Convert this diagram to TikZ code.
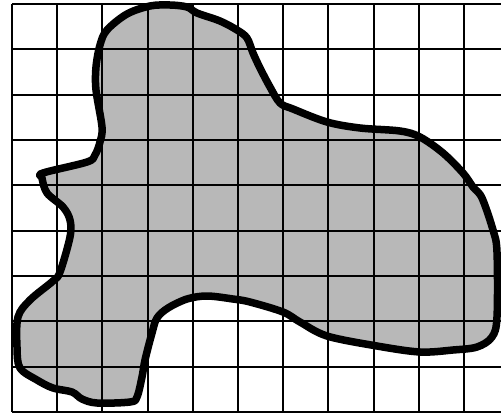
\documentclass[tikz,border=0pt]{standalone}
\definecolor{blobgray}{RGB}{184,184,184}
\begin{document}
\begin{tikzpicture}[x=1pt,y=-1pt,
  gridline/.style={line width=2pt,black},
  outline/.style={line width=7.5pt,black,line join=round}]
\useasboundingbox (0,0) rectangle (501,413);
\def\blobpath{plot[smooth cycle,tension=0.55] coordinates{
(150,6) (170,5) (187,7) (197,13) (220,21) (237,30) (247,38) (253,53) (260,68) (270,87) (280,103) (293,109) (327,122) (360,128) (400,131) (420,137) (443,153) (463,173) (473,187) (482,198) (493,230) (497,252) (497,317) (492,337) (477,347) (453,350) (420,352) (377,346) (327,336) (300,322) (283,312) (250,302) (233,299) (207,296) (187,299) (168,308) (157,318) (152,333) (145,360) (142,377) (137,397) (130,402) (97,403) (82,399) (72,392) (53,388) (37,380) (20,368) (17,347) (18,317) (30,300) (53,281) (60,272) (70,237) (70,220) (63,207) (47,193) (42,178) (43,173) (87,162) (95,155) (100,142) (102,127) (96,90) (96,67) (100,45) (107,30) (127,14)}}
\fill[blobgray] \blobpath;
\foreach \k in {0,...,10} {
  \draw[gridline] ({12+45.2*\k},4) -- ({12+45.2*\k},412);
}
\foreach \k in {0,...,9} {
  \draw[gridline] (12,{4+45.33*\k}) -- (501,{4+45.33*\k});
}
\draw[outline] \blobpath;
\end{tikzpicture}
\end{document}
